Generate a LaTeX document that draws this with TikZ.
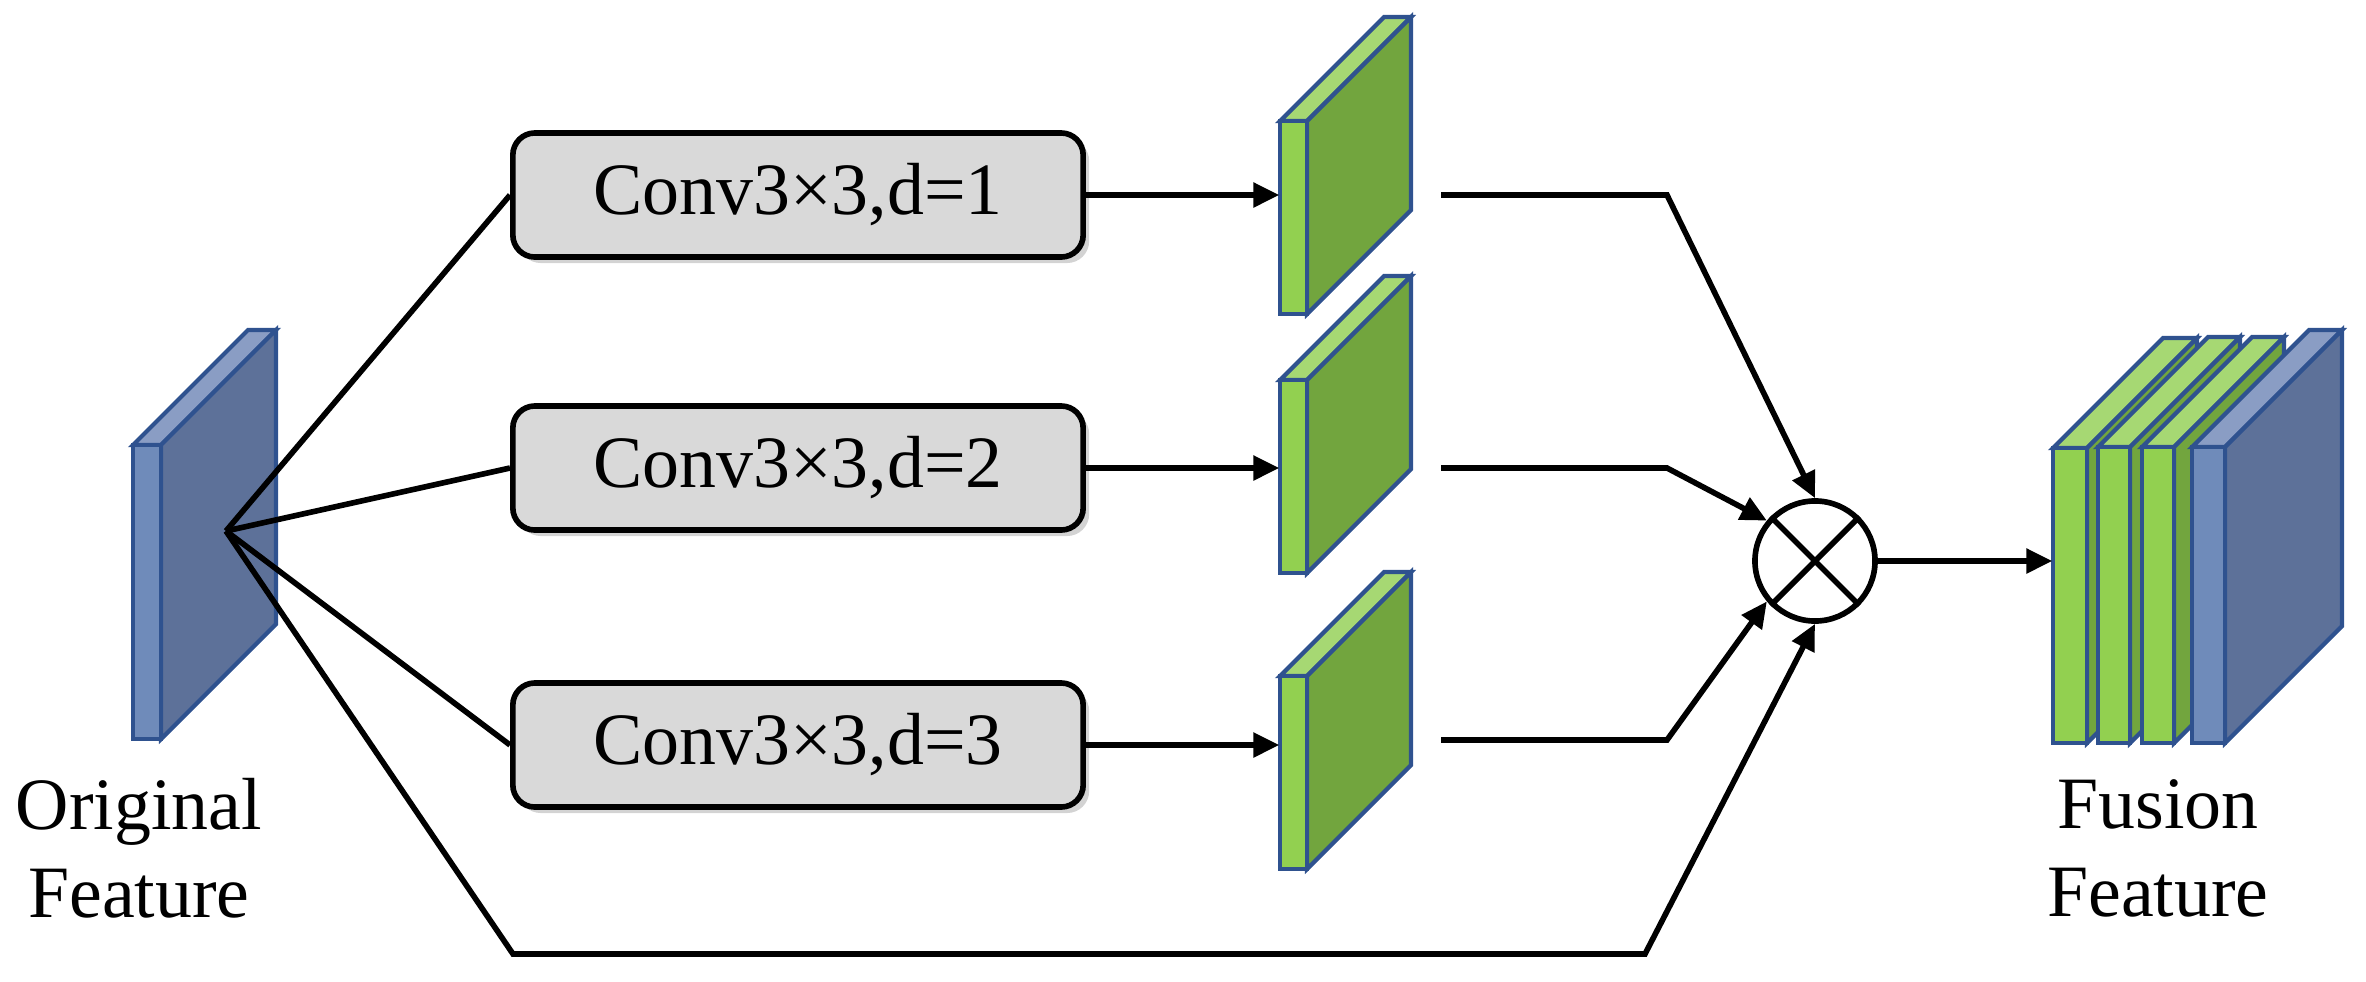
\documentclass[tikz,border=0pt]{standalone}
\usepackage{fontspec}
\setmainfont{Liberation Serif}
\usepackage{tikz}
\usetikzlibrary{positioning,fit,arrows.meta,shadows}

\definecolor{mapedge}{HTML}{2F528F}
\definecolor{bluefront}{HTML}{6F8BBA}
\definecolor{blueside}{HTML}{5D7199}
\definecolor{bluetop}{HTML}{8A9DC4}
\definecolor{greenfront}{HTML}{92D050}
\definecolor{greenside}{HTML}{72A53E}
\definecolor{greentop}{HTML}{A6D873}
\definecolor{boxfill}{HTML}{D9D9D9}

% feature map: name, x0, x1, ytop, ybot, depth, front, side, top
\newcommand{\featmap}[9]{
	\draw [mapedge, line width = 1.2pt, line join = miter, fill = #9]
		(#2, #4) -- (#3, #4) -- (#3 + #6, #4 - #6) -- (#2 + #6, #4 - #6) -- cycle;
	\draw [mapedge, line width = 1.2pt, line join = miter, fill = #8]
		(#3, #4) -- (#3 + #6, #4 - #6) -- (#3 + #6, #5 - #6) -- (#3, #5) -- cycle;
	\draw [mapedge, line width = 1.2pt, fill = #7] (#2, #4) rectangle (#3, #5);
	\node [fit = {(#2, #4) (#3, #5)}, inner sep = 0] (#1) {};
}

\begin{document}
\begin{tikzpicture}[
		x = 0.01cm, y = -0.01cm,
		font = \fontsize{21}{25}\selectfont,
		conv/.style = {
			draw,
			rectangle,
			rounded corners = 0.22cm,
			line width = 1.6pt,
			fill = boxfill,
			minimum width = 5.7cm,
			minimum height = 1.24cm,
			drop shadow = {opacity = 0.35, shadow xshift = 0.06cm, shadow yshift = -0.06cm},
		},
		link/.style = {
			line width = 1.6pt,
		},
		flow/.style = {
			link,
			-{Triangle[length = 0.26cm, width = 0.24cm]},
		},
		label/.style = {
			align = center,
		}
	]
	\useasboundingbox (0, 0) rectangle (2366, 981);

	% input
	\featmap{orig}{133}{161}{445}{739}{115}{bluefront}{blueside}{bluetop}
	\coordinate (fan) at (226, 531);
	\node [label] (origText) at (139, 848) {Original\\Feature};

	% dilated branches
	\node [conv] (conv1) at (798, 195) {Conv3×3,d=1};
	\node [conv] (conv2) at (798, 468) {Conv3×3,d=2};
	\node [conv] (conv3) at (798, 745) {Conv3×3,d=3};

	\featmap{map1}{1280}{1307}{121}{314}{104}{greenfront}{greenside}{greentop}
	\featmap{map2}{1280}{1307}{380}{573}{104}{greenfront}{greenside}{greentop}
	\featmap{map3}{1280}{1307}{676}{869}{104}{greenfront}{greenside}{greentop}

	% fusion
	\node [draw, circle, line width = 1.6pt, minimum size = 1.2cm, inner sep = 0] (mult) at (1815, 561) {};
	\draw [line width = 1.6pt] (mult.45) -- (mult.225);
	\draw [line width = 1.6pt] (mult.135) -- (mult.315);

	\featmap{fuse1}{2053}{2087}{448}{743}{110}{greenfront}{greenside}{greentop}
	\featmap{fuse2}{2098}{2130}{447}{743}{110}{greenfront}{greenside}{greentop}
	\featmap{fuse3}{2142}{2174}{447}{743}{110}{greenfront}{greenside}{greentop}
	\featmap{fuse4}{2192}{2225}{447}{743}{117}{bluefront}{blueside}{bluetop}
	\node [label] (fuseText) at (2158, 848) {Fusion\\Feature};

	\coordinate (out1) at (1441, 195);
	\coordinate (out2) at (1441, 468);
	\coordinate (out3) at (1441, 740);
	\coordinate (bend1) at (1667, 195);
	\coordinate (bend2) at (1667, 468);
	\coordinate (bend3) at (1667, 740);
	\coordinate (skipA) at (513, 954);
	\coordinate (skipB) at (1645, 954);

	\draw [link] (fan) -- (conv1.west);
	\draw [link] (fan) -- (conv2.west);
	\draw [link] (fan) -- (conv3.west);
	\draw [flow] (fan) -- (skipA) -- (skipB) -- (mult.south);

	\draw [flow] (conv1.east) -- (conv1.east -| map1.west);
	\draw [flow] (conv2.east) -- (conv2.east -| map2.west);
	\draw [flow] (conv3.east) -- (conv3.east -| map3.west);

	\draw [flow] (out1) -- (bend1) -- (mult.north);
	\draw [flow] (out2) -- (bend2) -- (mult.140);
	\draw [flow] (out3) -- (bend3) -- (mult.220);

	\draw [flow] (mult.east) -- (mult.east -| fuse1.west);
\end{tikzpicture}
\end{document}
